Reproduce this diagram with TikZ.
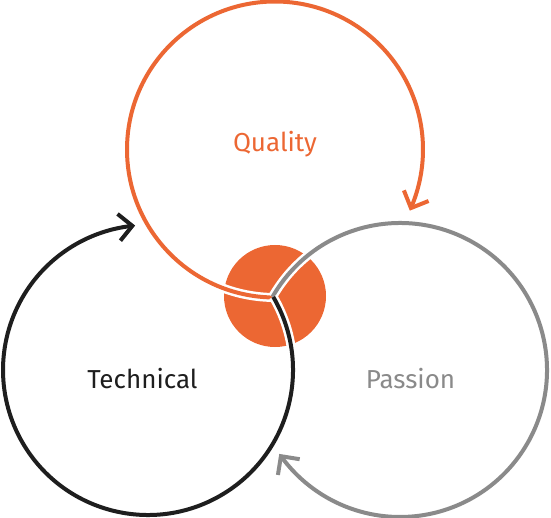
\documentclass[tikz,border=0pt]{standalone}
\usepackage{fontspec}
\setmainfont{Fira Sans}
\usetikzlibrary{calc}
\definecolor{qorange}{HTML}{EC6733}
\definecolor{pgray}{HTML}{8A8A8A}
\definecolor{tblack}{HTML}{1E1E1E}
\tikzset{
  casing/.style={draw=white,line width=9pt},
  ringline/.style={line width=4pt},
  chev/.style={line width=4pt,line join=miter,line cap=butt},
  label/.style={font=\fontsize{26}{30}\selectfont,anchor=base,inner sep=0pt}
}
\begin{document}
\begin{tikzpicture}[x=1pt,y=-1pt]
\useasboundingbox (0,0) rectangle (551,518);
\coordinate (O) at (275,149.5);
\coordinate (T) at (148,370);
\coordinate (P) at (400,370);
\coordinate (J) at (273,297);
\fill[qorange] (275,296) circle[radius=51];
% orange (Quality)
\draw[casing] ($(O)+(90.78:148)$) arc[start angle=90.78,end angle=383.3,radius=148];
\draw[ringline,qorange] ($(O)+(90.78:148)$) arc[start angle=90.78,end angle=383.3,radius=148] coordinate (oe);
\draw[chev,qorange] ($(oe)+(248.3:19)$) -- (oe) -- ($(oe)+(338.3:19)$);
% gray (Passion)
\draw[casing] ($(P)+(209.89:147)$) arc[start angle=209.89,end angle=504.1,radius=147];
\draw[ringline,pgray] ($(P)+(209.89:147)$) arc[start angle=209.89,end angle=504.1,radius=147] coordinate (pe);
\draw[chev,pgray] ($(pe)+(9.1:19)$) -- (pe) -- ($(pe)+(99.1:19)$);
% black (Technical)
\draw[casing] ($(T)+(-30.28:145)$) arc[start angle=-30.28,end angle=263.8,radius=145];
\draw[ringline,tblack] ($(T)+(-30.28:145)$) arc[start angle=-30.28,end angle=263.8,radius=145] coordinate (te);
\draw[chev,tblack] ($(te)+(128.8:19)$) -- (te) -- ($(te)+(218.8:19)$);
\node[label,text=qorange] (quality) at (275,152) {Quality};
\node[label,text=tblack] (technical) at (142.5,388) {Technical};
\node[label,text=pgray] (passion) at (410.5,388) {Passion};
\end{tikzpicture}
\end{document}
